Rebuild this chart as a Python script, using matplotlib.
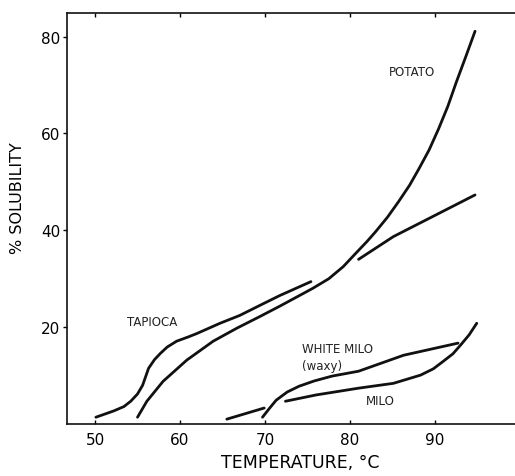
"""Starch solubility vs temperature, redrawn from scanned figure."""

import matplotlib

matplotlib.use("Agg")

import matplotlib.pyplot as plt

# values (temperature in C, solubility in %)
potato_temp = [55.0, 56.1, 58.0, 60.8, 63.9, 66.7, 69.4, 71.7, 75.6, 77.5,
               79.2, 80.7, 82.0, 83.0, 84.4, 85.7, 87.0, 88.1, 89.3, 90.4,
               91.5, 92.5, 93.6, 94.7]
potato_sol = [1.4, 4.7, 8.8, 13.2, 17.1, 19.8, 22.2, 24.3, 28.0, 30.0,
              32.5, 35.3, 37.7, 39.7, 42.7, 45.9, 49.3, 52.7, 56.6, 60.9,
              65.6, 70.6, 75.8, 81.1]

tapioca_temp = [50.1, 52.2, 53.4, 54.2, 55.0, 55.6, 56.3, 57.0, 57.7, 58.5,
                59.6, 61.0, 62.0, 64.7, 67.0, 69.4, 71.7, 75.4]
tapioca_sol = [1.4, 2.7, 3.6, 4.7, 6.2, 8.0, 11.5, 13.3, 14.6, 15.9,
               17.1, 18.0, 18.7, 20.8, 22.4, 24.5, 26.5, 29.4]

tapioca_hi_temp = [81.0, 85.1, 94.7]
tapioca_hi_sol = [34.0, 38.7, 47.3]

white_milo_temp = [69.7, 70.5, 71.3, 72.6, 74.0, 75.8, 77.9, 81.0, 86.3,
                   92.7]
white_milo_sol = [1.4, 3.2, 4.9, 6.6, 7.8, 8.9, 9.9, 10.9, 14.2, 16.7]

milo_temp = [72.4, 76.0, 81.0, 85.1, 88.3, 89.8, 91.0, 92.1, 93.0, 94.0,
             94.9]
milo_sol = [4.7, 6.0, 7.4, 8.4, 10.1, 11.4, 13.0, 14.5, 16.3, 18.4, 20.8]

milo_low_temp = [65.5, 69.9]
milo_low_sol = [1.0, 3.3]

x_ticks = [50, 60, 70, 80, 90]
y_ticks = [20, 40, 60, 80]

plt.rcParams["font.family"] = ["DejaVu Sans"]

figure = plt.figure(figsize=(5.15, 4.77), dpi=100)
axis = figure.add_axes([0.130, 0.109, 0.870, 0.862])

line_style = dict(color="#111111", linewidth=2.0, solid_capstyle="round",
                  solid_joinstyle="round")
for xs, ys in [
    (potato_temp, potato_sol),
    (tapioca_temp, tapioca_sol),
    (tapioca_hi_temp, tapioca_hi_sol),
    (white_milo_temp, white_milo_sol),
    (milo_temp, milo_sol),
    (milo_low_temp, milo_low_sol),
]:
    axis.plot(xs, ys, **line_style)

label_style = dict(fontsize=8.5, color="#222222")
axis.text(87.3, 72.8, "POTATO", ha="center", va="center", **label_style)
axis.text(56.7, 21.2, "TAPIOCA", ha="center", va="center", **label_style)
axis.text(74.3, 15.6, "WHITE MILO", ha="left", va="center", **label_style)
axis.text(74.3, 12.1, "(waxy)", ha="left", va="center", **label_style)
axis.text(83.5, 4.9, "MILO", ha="center", va="center", **label_style)

axis.set_xlim(46.7, 99.4)
axis.set_ylim(0, 84.9)
axis.set_xticks(x_ticks)
axis.set_yticks(y_ticks)
axis.tick_params(axis="x", direction="in", top=True, length=3, width=1,
                 labelsize=11, pad=6)
axis.tick_params(axis="y", direction="out", length=3, width=1,
                 labelsize=11, pad=2)

axis.spines["right"].set_visible(False)
for side in ["left", "top", "bottom"]:
    axis.spines[side].set_linewidth(1.2)
    axis.spines[side].set_color("#111111")

figure.text(300 / 515, 1 - 463 / 477, "TEMPERATURE, °C", ha="center",
            va="center", fontsize=12.5)
figure.text(18 / 515, 1 - 198 / 477, "% SOLUBILITY", ha="center",
            va="center", rotation=90, fontsize=11.5)

figure.savefig("out.png", dpi=100)
plt.close(figure)
